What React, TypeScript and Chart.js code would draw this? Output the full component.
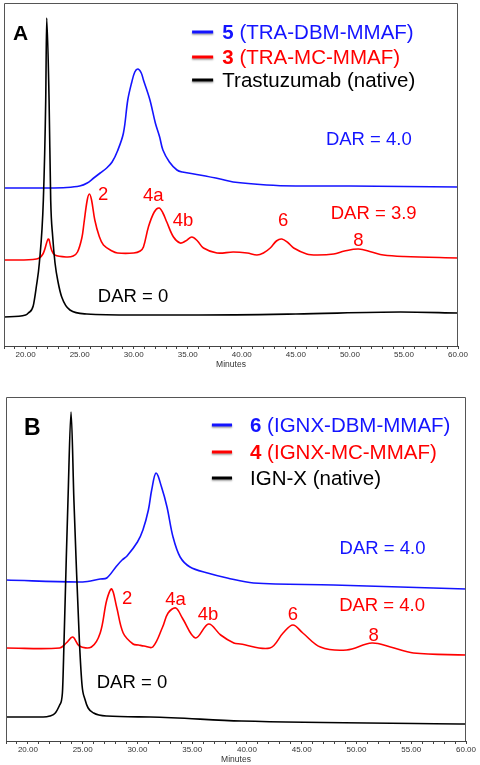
import React, { useEffect, useRef } from "react";
import { Chart, registerables } from "chart.js";
Chart.register(...registerables);

const FONT = '"Liberation Sans", Arial, Helvetica, sans-serif';
const BLUE = "#1414ff";
const RED = "#ff0000";
const BLACK = "#000000";

const X_MIN = 18;
const X_MAX = 60;

// ---------- Panel A (retention time in minutes, detector response in arbitrary units) ----------
const blueA_t = [18, 22, 23.8, 25.0, 25.7, 26.3, 26.9, 27.5, 28.0, 28.5, 29.05, 29.45, 29.8, 30.1, 30.4, 30.7, 30.9, 31.5, 32.0, 32.4, 32.7, 33.3, 34.0, 34.5, 36.1, 38.0, 39.2, 42.3, 45, 50, 55, 60];
const blueA_v = [158, 158, 158.5, 160, 163, 168, 173, 178, 184, 195, 213, 246, 263, 274, 277, 273, 266, 246, 223, 209, 196, 184, 176, 174, 171, 167, 164, 161, 160, 160, 159.5, 159];

const redA_t = [18, 21.0, 21.6, 22.1, 22.4, 22.7, 23.8, 24.4, 24.8, 25.2, 25.4, 25.7, 25.9, 26.1, 26.4, 26.8, 27.2, 28.0, 28.5, 30.0, 30.6, 30.9, 31.36, 31.9, 32.35, 32.7, 33.06, 33.68, 34.3, 34.8, 35.38, 35.9, 36.45, 37.7, 39.2, 40.5, 41.4, 42.0, 42.63, 43.2, 43.7, 44.3, 44.8, 46.0, 47.0, 48.5, 49.5, 50.8, 52.0, 53.1, 55, 60];
const redA_v = [86, 87, 92, 107, 96, 91, 89, 90, 94, 108, 123, 146, 152, 146, 126, 110, 101, 95, 93, 93, 95, 99, 119, 134, 138, 133, 124, 109, 103, 105, 109, 105, 98, 93, 94, 93, 91, 93, 98, 105, 107, 103, 98, 92, 91, 92, 95, 97, 94, 91, 89.5, 88];

const blackA_t = [18, 20.0, 20.25, 20.7, 21.0, 21.27, 21.64, 21.86, 21.95, 22.17, 22.32, 22.5, 22.72, 23.0, 23.34, 24.1, 25.66, 30, 36, 45, 54.7, 60];
const blackA_v = [29, 31, 33, 40, 60, 83, 146, 246, 328, 246, 146, 110, 83, 64, 49, 36, 32, 31, 31, 32, 34, 33];

// ---------- Panel B ----------
const blueB_t = [18, 25.0, 26.6, 27.2, 28.1, 28.6, 29.05, 30.0, 30.5, 31.0, 31.3, 31.7, 32.2, 32.7, 33.25, 33.9, 34.8, 36.4, 38.2, 40.6, 47.9, 54, 60];
const blueB_v = [161, 159, 162, 163, 175, 181, 185, 199, 211, 231, 251, 268, 254, 234, 204, 184, 174, 168, 163, 158, 156, 154, 152];

const redB_t = [18, 22.9, 23.5, 24.1, 24.7, 25.8, 26.6, 27.2, 27.65, 28.1, 28.7, 29.6, 30.1, 30.6, 31.4, 32.3, 32.8, 33.5, 34.1, 35.3, 36.5, 37.6, 38.8, 39.4, 42.1, 43.3, 44.2, 45.1, 46.7, 49.1, 51.4, 53.1, 55.2, 60];
const redB_v = [93, 93, 98, 104, 95, 94, 108, 141, 152, 134, 108, 97, 96, 95, 94, 114, 128, 133, 123, 103, 117, 106, 98, 97, 93, 108, 116, 108, 94, 91, 98, 94, 88, 86];

const blackB_t = [18, 21.4, 22.0, 22.5, 22.9, 23.15, 23.3, 23.5, 23.66, 23.94, 24.2, 24.4, 24.7, 24.95, 25.2, 25.5, 26.0, 27.2, 31.2, 39.5, 60];
const blackB_v = [24, 24, 25, 28, 36, 48, 100, 181, 241, 329, 241, 181, 100, 55, 42, 33, 28, 25, 24, 20, 17];

// ---------- Text ----------
const legendA = [
  { num: "5", rest: " (TRA-DBM-MMAF)", color: BLUE },
  { num: "3", rest: " (TRA-MC-MMAF)", color: RED },
  { num: "", rest: "Trastuzumab (native)", color: BLACK },
];
const legendB = [
  { num: "6", rest: " (IGNX-DBM-MMAF)", color: BLUE },
  { num: "4", rest: " (IGNX-MC-MMAF)", color: RED },
  { num: "", rest: "IGN-X (native)", color: BLACK },
];
const peakLabels = ["2", "4a", "4b", "6", "8"];
const darA = ["DAR = 4.0", "DAR = 3.9", "DAR = 0"];
const darB = ["DAR = 4.0", "DAR = 4.0", "DAR = 0"];

type Lbl = { text: string; t: number; v: number; color: string; size: number };

const panelA = {
  top: 0,
  height: 370,
  padding: { left: 4, right: 22, top: 3, bottom: 0 },
  axisHeight: 24,
  yMax: 343,
  series: [
    { t: blackA_t, v: blackA_v, color: BLACK, smooth: false },
    { t: redA_t, v: redA_v, color: RED, smooth: true },
    { t: blueA_t, v: blueA_v, color: BLUE, smooth: true },
  ],
  letter: { text: "A", t: 18.83, v: 313.5, size: 21 },
  legend: legendA,
  legendRows: [314, 289, 266],
  legendLine: [35.4, 37.35],
  legendText: 38.2,
  labels: [
    { text: peakLabels[0], t: 27.17, v: 153, color: RED, size: 18.5 },
    { text: peakLabels[1], t: 31.8, v: 152, color: RED, size: 18.5 },
    { text: peakLabels[2], t: 34.57, v: 127, color: RED, size: 18.5 },
    { text: peakLabels[3], t: 43.83, v: 127, color: RED, size: 18.5 },
    { text: peakLabels[4], t: 50.78, v: 107, color: RED, size: 18.5 },
    { text: darA[0], t: 51.75, v: 208, color: BLUE, size: 18.5 },
    { text: darA[1], t: 52.2, v: 134, color: RED, size: 18.5 },
    { text: darA[2], t: 29.94, v: 51, color: BLACK, size: 18.5 },
  ] as Lbl[],
};

const panelB = {
  top: 385,
  height: 380,
  padding: { left: 6, right: 14, top: 12, bottom: 0 },
  axisHeight: 24,
  yMax: 344,
  series: [
    { t: blackB_t, v: blackB_v, color: BLACK, smooth: false },
    { t: redB_t, v: redB_v, color: RED, smooth: true },
    { t: blueB_t, v: blueB_v, color: BLUE, smooth: true },
  ],
  letter: { text: "B", t: 19.64, v: 314.5, size: 23 },
  legend: legendB,
  legendRows: [316, 289, 263],
  legendLine: [36.8, 38.64],
  legendText: 40.28,
  labels: [
    { text: peakLabels[0], t: 29.05, v: 144, color: RED, size: 18.5 },
    { text: peakLabels[1], t: 33.48, v: 143, color: RED, size: 18.5 },
    { text: peakLabels[2], t: 36.45, v: 128, color: RED, size: 18.5 },
    { text: peakLabels[3], t: 44.2, v: 128, color: RED, size: 18.5 },
    { text: peakLabels[4], t: 51.56, v: 107, color: RED, size: 18.5 },
    { text: darB[0], t: 52.38, v: 194, color: BLUE, size: 18.5 },
    { text: darB[1], t: 52.34, v: 137, color: RED, size: 18.5 },
    { text: darB[2], t: 29.5, v: 60, color: BLACK, size: 18.5 },
  ] as Lbl[],
};

function drawText(ctx: CanvasRenderingContext2D, s: string, px: number, py: number, size: number, color: string, bold = false, align: CanvasTextAlign = "center") {
  ctx.font = `${bold ? "bold " : ""}${size}px ${FONT}`;
  ctx.fillStyle = color;
  ctx.textAlign = align;
  ctx.textBaseline = "alphabetic";
  ctx.fillText(s, px, py + size * 0.358);
}

function makeOverlay(cfg: any, id: string) {
  return {
    id,
    afterDatasetsDraw(chart: any) {
      const { ctx, chartArea } = chart;
      const xs = chart.scales.x;
      const ys = chart.scales.y;
      ctx.save();
      ctx.strokeStyle = "#555";
      ctx.lineWidth = 1;
      const l = Math.round(chartArea.left) + 0.5;
      const r = Math.round(chartArea.right) - 0.5;
      const t = Math.round(chartArea.top) + 0.5;
      const b = Math.round(chartArea.bottom);
      ctx.beginPath();
      ctx.moveTo(l, b);
      ctx.lineTo(l, t);
      ctx.lineTo(r, t);
      ctx.lineTo(r, b);
      ctx.stroke();

      drawText(ctx, cfg.letter.text, xs.getPixelForValue(cfg.letter.t), ys.getPixelForValue(cfg.letter.v), cfg.letter.size, BLACK, true, "left");

      cfg.legend.forEach((row: any, i: number) => {
        const py = ys.getPixelForValue(cfg.legendRows[i]);
        ctx.save();
        ctx.shadowColor = "rgba(0,0,0,0.35)";
        ctx.shadowBlur = 2;
        ctx.shadowOffsetY = 1.5;
        ctx.strokeStyle = row.color;
        ctx.lineWidth = 3;
        ctx.beginPath();
        ctx.moveTo(xs.getPixelForValue(cfg.legendLine[0]), py);
        ctx.lineTo(xs.getPixelForValue(cfg.legendLine[1]), py);
        ctx.stroke();
        ctx.restore();
        let px = xs.getPixelForValue(cfg.legendText);
        const size = 20.5;
        if (row.num) {
          drawText(ctx, row.num, px, py, size, row.color, true, "left");
          ctx.font = `bold ${size}px ${FONT}`;
          px += ctx.measureText(row.num).width;
        }
        drawText(ctx, row.rest, px, py, size, row.color, false, "left");
      });

      cfg.labels.forEach((lb: Lbl) => {
        drawText(ctx, lb.text, xs.getPixelForValue(lb.t), ys.getPixelForValue(lb.v), lb.size, lb.color);
      });
      ctx.restore();
    },
  };
}

function buildChart(canvas: HTMLCanvasElement, cfg: any, id: string) {
  return new Chart(canvas, {
    type: "line",
    data: {
      datasets: cfg.series.map((s: any) => ({
        data: s.t.map((x: number, i: number) => ({ x, y: s.v[i] })),
        borderColor: s.color,
        borderWidth: 1.6,
        pointRadius: 0,
        fill: false,
        cubicInterpolationMode: s.smooth ? "default" : "monotone",
        tension: s.smooth ? 0.35 : 0,
      })),
    },
    options: {
      responsive: false,
      animation: false,
      devicePixelRatio: 1,
      layout: { padding: cfg.padding },
      plugins: { legend: { display: false }, tooltip: { enabled: false } },
      scales: {
        x: {
          type: "linear",
          min: X_MIN,
          max: X_MAX,
          ticks: {
            stepSize: 1,
            autoSkip: false,
            maxRotation: 0,
            minRotation: 0,
            padding: 1,
            color: "#333",
            font: { family: FONT, size: 8 },
            callback: (v: any) => (Number(v) % 5 === 0 && Number(v) >= 20 ? Number(v).toFixed(2) : ""),
          },
          grid: { display: true, drawOnChartArea: false, drawTicks: true, tickLength: 3, color: "#444", lineWidth: 1 },
          border: { display: true, color: "#444", width: 1 },
          title: { display: true, text: "Minutes", color: "#333", font: { family: FONT, size: 8.5 }, padding: { top: 0, bottom: 0 } },
          afterFit: (scale: any) => {
            scale.height = cfg.axisHeight;
          },
        },
        y: { display: false, min: 0, max: cfg.yMax },
      },
    } as any,
    plugins: [makeOverlay(cfg, id)],
  });
}

export default function App() {
  const refA = useRef<HTMLCanvasElement>(null);
  const refB = useRef<HTMLCanvasElement>(null);
  useEffect(() => {
    const a = buildChart(refA.current!, panelA, "overlayA");
    const b = buildChart(refB.current!, panelB, "overlayB");
    return () => {
      a.destroy();
      b.destroy();
    };
  }, []);
  return (
    <div style={{ position: "absolute", left: 0, top: 0, width: 480, height: 765, overflow: "hidden", background: "#fff" }}>
      <canvas ref={refA} width={480} height={panelA.height} style={{ position: "absolute", left: 0, top: panelA.top }} />
      <canvas ref={refB} width={480} height={panelB.height} style={{ position: "absolute", left: 0, top: panelB.top }} />
    </div>
  );
}
